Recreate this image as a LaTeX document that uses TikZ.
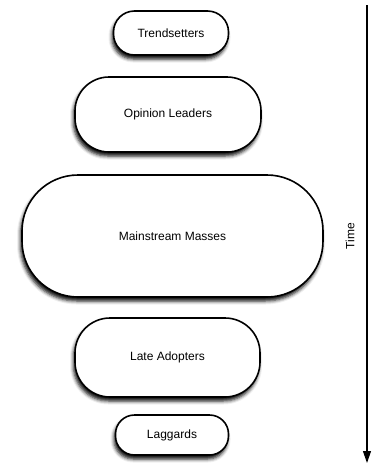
\documentclass[tikz,border=0pt]{standalone}
\usepackage{fontspec}
\setmainfont{Liberation Sans}
\usetikzlibrary{shadows.blur,arrows.meta}
\tikzset{
  stage/.style={draw=black, line width=1.6pt, fill=white,
    blur shadow={shadow xshift=-1.5pt, shadow yshift=-4pt, shadow blur radius=3.5pt, shadow opacity=95},
    font=\fontsize{12}{14}\selectfont},
  timeline/.style={line width=1.2pt, -{Triangle[length=12pt,width=8pt]}}
}
\begin{document}
\begin{tikzpicture}[x=1pt,y=-1pt]
\useasboundingbox (0,0) rectangle (389,472);
\node[stage, rounded corners=21pt, minimum width=115pt, minimum height=44pt] (trend) at (171,33) {Trendsetters};
\node[stage, rounded corners=34pt, minimum width=186pt, minimum height=75pt] (opinion) at (168,114.5) {Opinion Leaders};
\node[stage, rounded corners=56pt, minimum width=301pt, minimum height=122pt] (mass) at (172.5,236) {Mainstream Masses};
\node[stage, rounded corners=35pt, minimum width=185pt, minimum height=79pt] (late) at (167.5,357.5) {Late Adopters};
\node[stage, rounded corners=19pt, minimum width=113pt, minimum height=40pt] (lag) at (172,435) {Laggards};
\coordinate (tstart) at (367,5);
\coordinate (tend) at (367,463);
\draw[timeline] (tstart) -- (tend);
\node[rotate=90, font=\fontsize{12}{14}\selectfont] (time) at (350,236) {Time};
\end{tikzpicture}
\end{document}
